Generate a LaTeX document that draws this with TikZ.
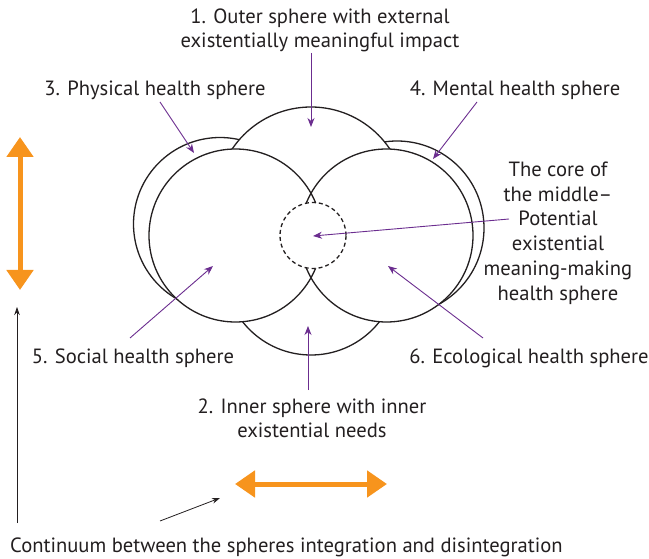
\documentclass[tikz,border=0pt]{standalone}
\usepackage{fontspec}
\setmainfont{PT Sans}
\usetikzlibrary{arrows.meta}
\definecolor{pur}{HTML}{6B2D8F}
\definecolor{org}{HTML}{F7941D}
\definecolor{ink}{HTML}{231F20}
\begin{document}
\begin{tikzpicture}[x=1pt,y=-1pt,
  sph/.style={circle, draw=ink, fill=white, line width=1.3pt, inner sep=0pt, outer sep=0pt},
  core/.style={circle, draw=ink, fill=white, line width=1.3pt, dash pattern=on 4pt off 3pt, inner sep=0pt, minimum size=66pt},
  lbl/.style={font=\fontsize{20.6}{24}\selectfont, align=center, inner sep=0pt, text=ink},
  lblc/.style={font=\fontsize{20.6}{24.8}\selectfont, align=center, inner sep=0pt, text=ink},
  parr/.style={draw=pur, line width=0.9pt, -{Stealth[length=9pt,width=7pt]}},
  oarr/.style={draw=org, line width=5pt, {Triangle[length=20pt,width=26pt]}-{Triangle[length=20pt,width=26pt]}},
  karr/.style={draw=ink, line width=0.8pt, -{Stealth[length=8pt,width=5.5pt]}}]
\useasboundingbox (0,0) rectangle (649,559);

% back spheres
\node[sph, minimum size=173pt] (phys) at (220,224) {};
\node[sph, minimum size=174pt] (ment) at (397,228) {};
% outer and inner spheres
\node[sph, minimum size=190pt] (outer) at (311,202) {};
\node[sph, minimum size=174pt] (inner) at (311,268) {};
% front spheres: fill (with the notches between them), then outline
\fill[white] (235.5,235.5) circle[radius=86.5];
\fill[white] (386.5,235.5) circle[radius=86.5];
\fill[white] (290,175) rectangle (332,300);
\node[sph, fill=none, minimum size=173pt] (social) at (235.5,235.5) {};
\node[sph, fill=none, minimum size=173pt] (eco) at (386.5,235.5) {};
% core
\node[core] (corec) at (313,235.5) {};

% labels
\node[lbl] (l1) at (320,30) {1. Outer sphere with external\\existentially meaningful impact};
\node[lbl, anchor=base] (l3) at (155,96) {3. Physical health sphere};
\node[lbl, anchor=base] (l4) at (515,96) {4. Mental health sphere};
\node[lblc] (lc) at (558,233) {The core of\\the middle–\\Potential\\existential\\meaning-making\\health sphere};
\node[lbl, anchor=base] (l5) at (133,363) {5. Social health sphere};
\node[lbl, anchor=base] (l6) at (529,363) {6. Ecological health sphere};
\node[lbl] (l2) at (312,418) {2. Inner sphere with inner\\existential needs};
\node[lbl, anchor=base west] (lcont) at (10,552) {Continuum between the spheres integration and disintegration};

% arrow end points
\coordinate (a1s) at (311,53);  \coordinate (a1e) at (311,127);
\coordinate (a3s) at (160,102); \coordinate (a3e) at (194,153);
\coordinate (a4s) at (477,102); \coordinate (a4e) at (433,159);
\coordinate (acs) at (509,219); \coordinate (ace) at (313,236);
\coordinate (a5s) at (130,338); \coordinate (a5e) at (213,266);
\coordinate (a6s) at (483,338); \coordinate (a6e) at (388,266);
\coordinate (a2s) at (308,390); \coordinate (a2e) at (308,326);
\coordinate (kvs) at (17,523);  \coordinate (kve) at (17,307);
\coordinate (kds) at (160,521); \coordinate (kde) at (220,498);
\coordinate (ovt) at (20,137);  \coordinate (ovb) at (20,290);
\coordinate (ohl) at (235,484); \coordinate (ohr) at (387,484);

\draw[parr] (a1s) -- (a1e);
\draw[parr] (a3s) -- (a3e);
\draw[parr] (a4s) -- (a4e);
\draw[parr] (acs) -- (ace);
\draw[parr] (a5s) -- (a5e);
\draw[parr] (a6s) -- (a6e);
\draw[parr] (a2s) -- (a2e);
\draw[karr] (kvs) -- (kve);
\draw[karr] (kds) -- (kde);
\draw[oarr] (ovt) -- (ovb);
\draw[oarr] (ohl) -- (ohr);
\end{tikzpicture}
\end{document}
